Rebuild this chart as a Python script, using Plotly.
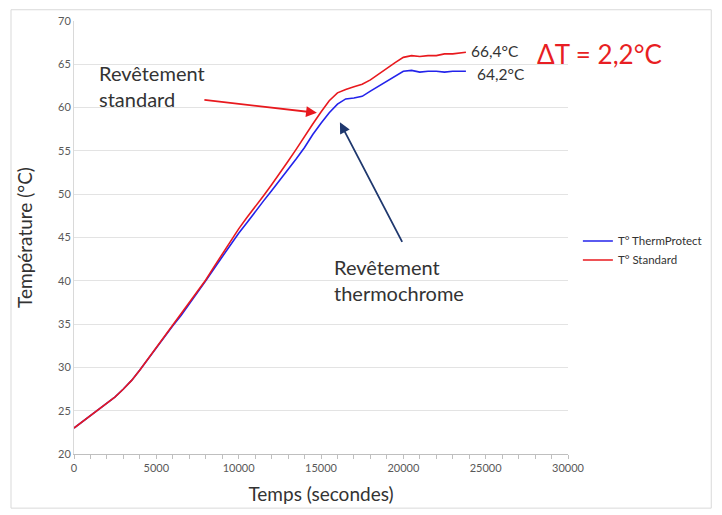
import plotly.graph_objects as go

# temps (s)
temps = [0, 500, 1000, 1500, 2000, 2500, 3000, 3500, 4000, 4500, 5000, 5500,
         6000, 6500, 7000, 7500, 8000, 8500, 9000, 9500, 10000, 10500, 11000,
         11500, 12000, 12500, 13000, 13500, 14000, 14500, 15000, 15500, 16000,
         16500, 17000, 17500, 18000, 18500, 19000, 19500, 20000, 20500, 21000,
         21500, 22000, 22500, 23000, 23500, 23800]

# T° Standard
t_standard = [23.0, 23.7, 24.4, 25.1, 25.8, 26.6, 27.5, 28.5, 29.7, 31.0, 32.3, 33.6,
              34.8, 36.1, 37.4, 38.7, 40.1, 41.6, 43.1, 44.6, 46.0, 47.3, 48.5,
              49.8, 51.1, 52.4, 53.8, 55.2, 56.7, 58.1, 59.5, 60.8, 61.7,
              62.1, 62.4, 62.7, 63.2, 63.9, 64.6, 65.2, 65.8, 66.0, 65.9,
              66.0, 66.0, 66.2, 66.2, 66.3, 66.4]

# T° ThermProtect
t_therm = [23.0, 23.7, 24.4, 25.1, 25.8, 26.6, 27.5, 28.5, 29.7, 31.0, 32.3, 33.6,
           34.8, 36.0, 37.3, 38.6, 40.0, 41.4, 42.8, 44.2, 45.5, 46.7, 48.0,
           49.2, 50.4, 51.6, 52.9, 54.1, 55.4, 56.9, 58.2, 59.4, 60.4,
           61.0, 61.1, 61.3, 61.9, 62.5, 63.1, 63.7, 64.2, 64.3, 64.1,
           64.2, 64.2, 64.1, 64.2, 64.2, 64.2]

txt = '#333333'
grey = '#595959'
font = 'Lato, Carlito, sans-serif'

fig = go.Figure()
fig.add_trace(go.Scatter(x=temps, y=t_therm, mode='lines', name='T° ThermProtect',
                         line=dict(color='rgb(35,35,235)', width=1.6)))
fig.add_trace(go.Scatter(x=temps, y=t_standard, mode='lines', name='T° Standard',
                         line=dict(color='rgb(232,25,30)', width=1.6)))

annotations = [
    # labels
    dict(x=1400, y=62.5, text='Revêtement<br>standard', showarrow=False,
         xanchor='left', yanchor='middle', align='left',
         font=dict(size=20, color=txt)),
    dict(x=15660, y=40.1, text='Revêtement<br>thermochrome', showarrow=False,
         xanchor='left', yanchor='middle', align='left',
         font=dict(size=20, color=txt)),
    dict(x=24000, y=66.5, text='66,4°C', showarrow=False, xanchor='left',
         font=dict(size=15.5, color=txt)),
    dict(x=24350, y=63.9, text='64,2°C', showarrow=False, xanchor='left',
         font=dict(size=15.5, color=txt)),
    dict(x=28000, y=66.2, text='ΔT = 2,2°C', showarrow=False, xanchor='left',
         font=dict(size=26, color='rgb(232,30,35)')),
    # arrows
    dict(x=14750, y=59.4, ax=-114, ay=-13, text='', showarrow=True,
         arrowhead=2, arrowsize=1.2, arrowwidth=1.8, arrowcolor='rgb(232,25,30)'),
    dict(x=16150, y=58.3, ax=63, ay=121, text='', showarrow=True,
         arrowhead=2, arrowsize=1.2, arrowwidth=1.8, arrowcolor='rgb(31,56,110)'),
]

# page body adds 8px offset, so the figure is 714x507
fig.update_layout(
    width=714, height=507,
    margin=dict(l=66, r=154, t=13, b=61, autoexpand=False),
    paper_bgcolor='white', plot_bgcolor='white',
    font=dict(family=font, color=grey),
    showlegend=True,
    legend=dict(x=1.02, y=0.47, xanchor='left', yanchor='middle',
                font=dict(size=11.5, color=txt), bgcolor='rgba(0,0,0,0)',
                tracegroupgap=2),
    annotations=annotations,
    shapes=[dict(type='rect', xref='paper', yref='paper',
                 x0=-0.1275, x1=1.29, y0=-0.125, y1=1.026,
                 line=dict(color='#d9d9d9', width=1), layer='below')],
)

fig.update_xaxes(
    range=[0, 30000], dtick=5000, tickformat='d', automargin=False,
    showgrid=False, zeroline=False,
    showline=True, linecolor='#bfbfbf', linewidth=1,
    ticks='outside', ticklen=4, tickcolor='#bfbfbf',
    minor=dict(dtick=1000, ticks='outside', ticklen=4, tickcolor='#bfbfbf'),
    tickfont=dict(size=11, color=grey),
    title=dict(text='Temps (secondes)', font=dict(size=19, color=txt), standoff=14),
)
fig.update_yaxes(
    range=[20, 70], dtick=5, automargin=False,
    showgrid=True, gridcolor='#e3e3e3', gridwidth=1, zeroline=False,
    showline=True, linecolor='#d9d9d9', linewidth=1,
    ticks='', tickfont=dict(size=11, color=grey),
    title=dict(text='Température (°C)', font=dict(size=19, color=txt), standoff=20),
)

fig.write_html('out.html')
